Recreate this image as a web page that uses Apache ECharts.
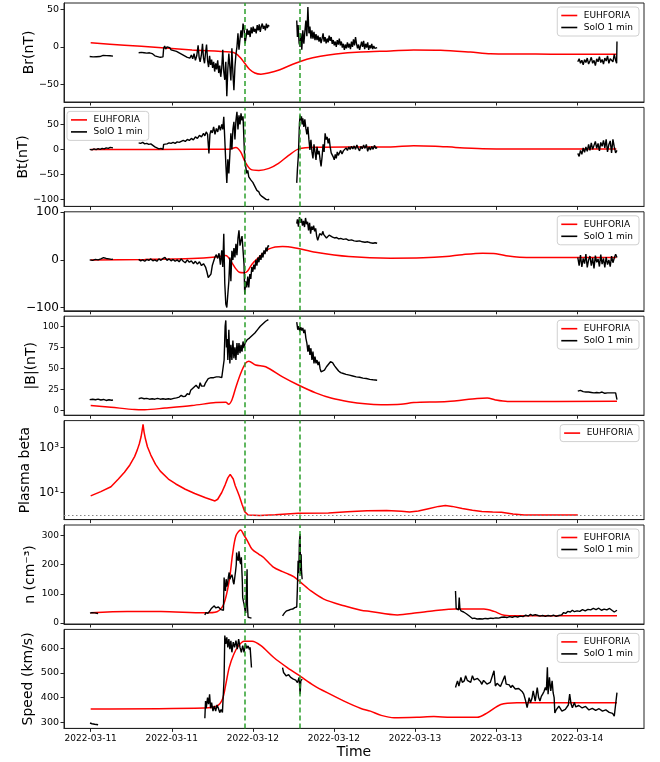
<!DOCTYPE html>
<html><head><meta charset="utf-8">
<script src="https://cdn.jsdelivr.net/npm/echarts@6/dist/echarts.min.js"></script>
<style>html,body{margin:0;padding:0;background:#fff}#c{width:660px;height:762px}</style>
</head><body><div id="c"></div>
<script>
// time in hours since 2022-03-11 00:00
const timeTicks = [0,12,24,36,48,60,72];
const shockTimes = [22.8, 31.0];
const xRange = [-3.95, 81.9];

// ---- Br ----
const brModel = [[0,5.3],[5,2.2],[10,-1],[15,-4.2],[20.7,-7],[21.5,-9],[22.1,-14],[22.8,-22],[23.5,-30],[24.3,-35],[25.2,-36.5],[26.3,-35],[28,-30.5],[30,-23],[32,-16.5],[34,-12.5],[36.3,-9.5],[40,-7],[44.4,-5.5],[47.8,-4.2],[51.8,-4.5],[56.2,-7],[59.2,-9.3],[68.1,-9.8],[77.8,-10]];
const brObsA = [[-0.15,-13],[0.1,-12.5],[0.35,-13.5],[0.6,-12.8],[0.85,-13.2],[1.1,-12],[1.35,-13],[1.6,-12.5],[1.85,-11.5],[2.1,-12.2],[2.35,-11.8],[2.6,-13],[2.85,-12],[3.1,-12.8],[3.3,-12.5]];
const brObsB = [[7.1,-8],[7.3,-9.5],[7.5,-7.5],[7.7,-9],[7.9,-8],[8.1,-10],[8.3,-8.5],[8.5,-9.5],[8.7,-8],[8.9,-10.5],[9.1,-9],[9.3,-11],[9.5,-12],[9.7,-11],[9.9,-13],[10.1,-12],[10.3,-14],[10.5,-12.5],[10.7,-13.5],[10.8,-2],[10.95,1],[11.1,-3],[11.3,0],[11.5,-2],[11.7,-1],[11.9,-4],[12.1,-2],[12.3,-5],[12.5,-3],[12.7,-6],[12.9,-4],[13.1,-8],[13.3,-7],[13.5,-10],[13.7,-9],[13.9,-12],[14.1,-10],[14.3,-14],[14.5,-12],[14.7,-15],[14.9,-11],[15.1,-16],[15.3,-9],[15.5,-18],[15.7,-12],[15.9,2],[16.05,-14],[16.2,-20],[16.4,-10],[16.55,4],[16.7,-15],[16.85,-22],[17.0,-8],[17.15,3],[17.3,-18],[17.45,-27],[17.6,-12],[17.75,-24],[17.9,-17],[18.05,-28],[18.2,-20],[18.35,-33],[18.5,-22],[18.65,-30],[18.8,-18],[18.95,-35],[19.1,-25],[19.25,-40],[19.4,-28],[19.55,-4],[19.7,-33],[19.85,-44],[20.0,-20],[20.15,-66],[20.3,-30],[20.45,-9],[20.6,-27],[20.75,-45],[20.9,-2],[21.05,-35],[21.2,-58],[21.35,-27],[21.5,-10],[21.65,0],[21.8,18],[21.95,-4],[22.1,10],[22.25,22],[22.4,12],[22.55,31],[22.7,25],[22.85,4.5],[23.0,13],[23.15,24],[23.3,16],[23.45,22],[23.6,13],[23.75,26],[23.9,18],[24.05,27],[24.2,20],[24.35,24],[24.5,18],[24.65,29],[24.8,22],[24.95,30],[25.1,20],[25.25,27],[25.4,31],[25.55,24],[25.7,28],[25.85,22],[26.0,31],[26.15,25],[26.3,29],[26.4,27]];
const brObsC = [[30.5,35],[30.6,13],[30.7,29],[30.85,5],[31.0,0],[31.1,18],[31.25,-4],[31.4,22],[31.55,4],[31.7,20],[31.85,35],[32.0,14],[32.15,53],[32.3,18],[32.45,27],[32.6,11],[32.75,22],[32.9,11],[33.05,20],[33.2,9],[33.35,17],[33.5,9],[33.65,15],[33.8,7],[33.95,13],[34.1,5],[34.25,11],[34.4,18],[34.55,7],[34.7,13],[34.85,4.5],[35.0,11],[35.15,6],[35.3,15],[35.45,8],[35.6,13],[35.75,4],[35.9,9],[36.05,2],[36.2,7],[36.35,0],[36.5,9],[36.65,3],[36.8,11],[36.95,2],[37.1,7],[37.25,-1],[37.4,4],[37.55,-4],[37.7,3],[37.85,-2],[38.0,6],[38.15,-1],[38.3,4],[38.45,-3],[38.6,7],[38.75,0],[38.9,10],[39.05,2],[39.2,13],[39.35,4],[39.5,-2],[39.65,3],[39.8,-4],[39.95,1],[40.1,7],[40.25,0],[40.4,8],[40.55,-3],[40.7,4],[40.85,-1],[41.0,6],[41.15,-4],[41.3,2],[41.45,-2],[41.6,4],[41.75,-3],[41.9,1],[42.05,-2],[42.2,0],[42.4,-1]];
const brObsD = [[72.1,-20],[72.3,-16],[72.5,-22],[72.7,-18],[72.9,-24],[73.1,-17],[73.3,-21],[73.5,-15],[73.7,-23],[73.9,-19],[74.1,-14],[74.3,-22],[74.5,-18],[74.7,-25],[74.9,-16],[75.1,-20],[75.3,-13],[75.5,-21],[75.7,-17],[75.9,-23],[76.1,-15],[76.3,-19],[76.5,-12],[76.7,-22],[76.9,-16],[77.1,-14],[77.3,-20],[77.5,-10],[77.7,-18],[77.85,-22],[77.9,7]];

// ---- Bt ----
const btModel = [[0,0],[10,0],[20.5,0.5],[21.5,4],[22.2,-5],[22.9,-26],[23.7,-40],[24.9,-42],[26.4,-38],[27.8,-28],[29.3,-12],[30.8,1],[33.3,4.5],[38,5],[44.4,5],[47.8,7.5],[51,6.5],[54,4],[58,1.5],[62,0.6],[77.8,0.6]];
const btObsA = [[-0.15,0],[0.2,-1],[0.5,1],[0.8,-0.5],[1.1,1.5],[1.4,0],[1.7,2],[2.0,1],[2.3,3],[2.6,2],[2.9,4],[3.1,2.5],[3.3,3]];
const btObsB = [[7.1,13],[7.4,12],[7.7,14],[8.0,11],[8.3,12],[8.6,10],[8.9,11],[9.2,8],[9.5,5],[9.8,3],[10.1,1],[10.4,2],[10.7,0],[10.8,10],[11.0,12],[11.3,11],[11.6,13],[11.9,12],[12.2,14],[12.5,12],[12.8,15],[13.1,14],[13.4,16],[13.7,18],[14.0,16],[14.3,20],[14.6,18],[14.9,22],[15.2,19],[15.5,25],[15.8,22],[16.1,28],[16.4,25],[16.7,32],[16.9,27],[17.1,35],[17.3,30],[17.5,-8],[17.65,30],[17.8,38],[18.0,33],[18.2,45],[18.4,30],[18.6,42],[18.8,35],[19.0,48],[19.2,38],[19.4,50],[19.55,40],[19.7,65],[19.85,20],[20.0,-28],[20.15,-67],[20.3,-20],[20.45,-48],[20.6,-10],[20.75,32],[20.9,0],[21.05,40],[21.2,55],[21.35,20],[21.5,58],[21.65,75],[21.8,40],[21.95,68],[22.1,50],[22.25,72],[22.4,58],[22.55,66],[22.7,70],[22.8,-21],[22.95,-35],[23.1,-48],[23.25,-42],[23.4,-55],[23.55,-52],[23.7,-61],[23.85,-58],[24.0,-66],[24.15,-64],[24.3,-74],[24.45,-78],[24.6,-82],[24.75,-86],[24.9,-85],[25.05,-90],[25.2,-89],[25.35,-94],[25.5,-92],[25.65,-97],[25.8,-96],[25.95,-100],[26.1,-98],[26.25,-101],[26.4,-99]];
const btObsC = [[30.5,-67],[30.6,-40],[30.75,-10],[30.9,52],[31.0,68],[31.1,58],[31.2,66],[31.3,50],[31.4,62],[31.55,45],[31.7,60],[31.85,42],[32.0,30],[32.15,45],[32.3,20],[32.45,-1],[32.6,19],[32.75,-5],[32.9,-18],[33.05,10],[33.2,-5],[33.35,-21],[33.5,5],[33.65,-10],[33.8,-3],[33.95,-20],[34.1,-34],[34.25,-15],[34.4,10],[34.55,-5],[34.7,32],[34.85,20],[35.0,25],[35.15,12],[35.3,22],[35.45,5],[35.6,-7],[35.75,-3],[35.9,-15],[36.05,-21],[36.2,-10],[36.35,-18],[36.5,-5],[36.65,-12],[36.8,-8],[37.0,-2],[37.2,-9],[37.4,-3],[37.6,-6],[37.8,3],[38.0,-2],[38.2,5],[38.4,0],[38.6,6],[38.8,1],[39.0,7],[39.2,0],[39.4,9],[39.6,2],[39.8,-3],[40.0,6],[40.2,1],[40.4,9],[40.6,2],[40.8,10],[41.0,-4],[41.2,5],[41.4,-1],[41.6,6],[41.8,0],[42.0,8],[42.2,2],[42.4,4]];
const btObsD = [[72.1,-8],[72.3,-14],[72.5,-2],[72.7,-10],[72.9,3],[73.1,-6],[73.3,5],[73.5,-4],[73.7,10],[73.9,-2],[74.1,13],[74.3,0],[74.5,8],[74.7,16],[74.9,2],[75.1,12],[75.3,-3],[75.5,14],[75.7,6],[75.9,18],[76.1,3],[76.3,20],[76.5,-5],[76.7,10],[76.9,17],[77.1,-7],[77.3,20],[77.5,5],[77.7,-7],[77.9,-2]];

// ---- Bn ----
const bnModel = [[0,-0.5],[8,1],[15,3],[18.5,6],[20.0,9],[20.7,-1.5],[21.5,-19],[22.0,-26],[22.7,-27],[23.2,-24],[23.9,-8.5],[24.9,5.5],[26.4,23],[28.4,28],[30.3,25],[33.3,16],[38.2,7],[44.4,3.4],[49.2,4.2],[52.6,7],[55,11],[58,14],[60,13],[61.8,8],[63.5,5.5],[66,5],[77.8,5]];
const bnObsA = [[-0.15,0],[0.3,-1],[0.7,1],[1.1,0],[1.5,2],[1.9,4.5],[2.3,3],[2.7,2],[3.1,1],[3.3,1.5]];
const bnObsB = [[7.1,1],[7.4,-2],[7.7,0],[8.0,-3],[8.3,1],[8.6,-1],[8.9,2],[9.2,-2],[9.5,0],[9.8,-3],[10.1,2],[10.4,-1],[10.7,3],[11.0,5],[11.3,-1],[11.6,2],[11.9,-2],[12.2,1],[12.5,-3],[12.8,0],[13.1,-4],[13.4,2],[13.7,-3],[14.0,-6],[14.3,0],[14.6,-5],[14.9,-2],[15.2,-8],[15.5,-3],[15.8,-9],[16.1,-4],[16.4,-12],[16.7,-8],[17.0,-15],[17.2,-25],[17.4,-37],[17.6,-39],[17.8,-30],[18.0,-12],[18.2,-3],[18.4,6],[18.6,11],[18.8,3],[19.0,14],[19.2,-10],[19.4,20],[19.55,-15],[19.7,55],[19.85,-50],[20.0,-93],[20.15,-100],[20.3,-72],[20.45,-45],[20.6,5],[20.75,-45],[20.9,19],[21.05,0],[21.2,25],[21.35,5],[21.5,34],[21.65,10],[21.8,45],[21.95,62],[22.1,30],[22.25,41],[22.4,50],[22.55,20],[22.7,-10],[22.8,-72],[22.95,-45],[23.1,-58],[23.25,-35],[23.4,-58],[23.55,-30],[23.7,-40],[23.85,-15],[24.0,-25],[24.15,-10],[24.3,-20],[24.45,0],[24.6,-12],[24.75,5],[24.9,-5],[25.05,10],[25.2,0],[25.35,15],[25.5,5],[25.65,20],[25.8,12],[25.95,26],[26.1,18],[26.25,30],[26.4,28]];
const bnObsC = [[30.5,76],[30.6,85],[30.75,70],[30.9,90],[31.05,78],[31.2,86],[31.35,72],[31.5,82],[31.65,69],[31.8,88],[31.95,75],[32.1,80],[32.25,62],[32.4,78],[32.55,55],[32.7,70],[32.85,63],[33.0,72],[33.15,60],[33.3,66],[33.45,50],[33.6,41],[33.75,44],[33.9,55],[34.05,58],[34.2,52],[34.35,60],[34.5,53],[34.7,50],[34.9,46],[35.1,49],[35.3,52],[35.5,50],[35.8,48],[36.1,46],[36.4,47],[36.7,44],[37.0,45],[37.4,43],[37.8,44],[38.2,41],[38.6,42],[39.0,40],[39.4,39],[39.8,40],[40.2,38],[40.6,37],[41.0,38],[41.4,36],[41.8,35],[42.1,36],[42.4,35]];
const bnObsD = [[72.1,5],[72.3,-12],[72.5,10],[72.7,-15],[72.9,3],[73.1,-8],[73.3,12],[73.5,-16],[73.7,0],[73.9,8],[74.1,-12],[74.3,4],[74.5,-18],[74.7,9],[74.9,-5],[75.1,2],[75.3,-14],[75.5,11],[75.7,-9],[75.9,3],[76.1,-16],[76.3,6],[76.5,-10],[76.7,0],[76.9,-14],[77.1,8],[77.3,-6],[77.5,4],[77.7,12],[77.9,5]];

// ---- |B| ----
const bModel = [[0,6],[3,4],[6.5,1.2],[8,1],[11,3],[15,6],[18.5,9.5],[20.0,10],[20.4,7.5],[20.9,12.6],[21.5,28],[22.2,44],[22.9,56],[23.4,58.6],[24.4,54],[25.9,52],[28.4,40],[30.8,30],[33.3,21],[35.7,14.5],[38.2,10.5],[40.6,8],[43,7],[45.9,7.5],[47.8,9.5],[52.8,10.8],[57.2,14.4],[58.7,15],[59.9,12.6],[61.7,10.8],[77.9,11]];
const bObsA = [[-0.15,13],[0.3,13.5],[0.7,12.8],[1.1,13.6],[1.5,12.5],[1.9,13.2],[2.3,12],[2.7,12.8],[3.1,12.2],[3.3,12.6]];
const bObsB = [[7.1,14],[7.5,15],[7.9,14],[8.3,14.5],[8.7,13.5],[9.1,14],[9.5,13.5],[9.9,14.5],[10.3,13.5],[10.7,14],[11.1,13.5],[11.5,14],[11.9,13.5],[12.3,14.5],[12.7,15],[13.1,16],[13.4,18],[13.7,16.5],[14.0,17],[14.3,20],[14.6,19],[14.8,24],[15.0,22],[15.2,27],[15.4,25],[15.6,30],[15.8,28],[16.0,26],[16.2,33],[16.4,29],[16.6,31],[16.8,29],[17.0,33],[17.2,35],[17.4,38],[17.6,36],[17.8,39],[18.0,37],[18.2,39],[18.4,38],[18.6,40],[18.8,39],[19.0,40],[19.2,38],[19.4,39],[19.6,37],[19.75,60],[19.9,100],[20.0,107],[20.1,75],[20.2,85],[20.3,60],[20.45,96],[20.6,56],[20.75,78],[20.9,60],[21.05,83],[21.2,62],[21.35,75],[21.5,60],[21.65,80],[21.8,66],[21.95,80],[22.1,68],[22.25,78],[22.4,70],[22.55,82],[22.7,74],[22.85,80],[23.0,78],[23.15,84],[23.3,82],[23.5,86],[23.7,85],[23.9,89],[24.1,88],[24.3,92],[24.5,93],[24.7,96],[24.9,97],[25.1,100],[25.3,101],[25.5,103],[25.7,104],[25.9,106],[26.1,107],[26.3,108]];
const bObsC = [[30.5,105],[30.65,96],[30.8,100],[30.95,94],[31.1,99],[31.25,95],[31.4,98],[31.55,92],[31.7,96],[31.85,86],[32.0,80],[32.15,70],[32.3,78],[32.45,66],[32.6,74],[32.75,60],[32.9,70],[33.05,56],[33.2,64],[33.35,56],[33.5,60],[33.65,54],[33.8,58],[33.95,50],[34.1,46],[34.3,47],[34.6,48],[34.9,52],[35.2,55],[35.5,58],[35.8,57],[36.1,53],[36.4,50],[36.7,47],[37.0,45],[37.4,44],[37.8,43],[38.3,42],[38.8,41],[39.3,40],[39.8,39.5],[40.3,38.5],[40.8,38],[41.3,37],[41.8,36.5],[42.4,36]];
const bObsD = [[72.1,23],[72.3,22],[72.5,24],[72.7,23],[72.9,22.5],[73.1,23.5],[73.3,22],[73.5,23],[73.7,22],[73.9,23.5],[74.1,21.5],[74.3,22.5],[74.5,21],[74.7,22],[74.9,21.5],[75.1,22.5],[75.3,21],[75.5,20.5],[75.7,22],[75.9,21],[76.1,20.5],[76.3,21.5],[76.5,21],[76.7,20.5],[76.9,21],[77.1,22],[77.3,21],[77.5,20],[77.7,21],[77.85,19],[77.9,13]];

// ---- Plasma beta ----
const betaModel = [[0,7.1],[1.5,11],[3,18],[4.1,40],[5,80],[5.8,170],[6.5,400],[6.9,800],[7.2,1500],[7.45,3000],[7.6,5500],[7.75,11000],[7.9,5000],[8.1,2500],[8.4,1100],[8.9,470],[9.6,180],[10.3,90],[11.5,40],[12.6,24],[14,14],[15.4,9],[17,5.8],[18.4,4.2],[18.8,5],[19.4,10],[19.9,22],[20.3,45],[20.65,65],[20.85,72],[21.1,40],[21.4,20],[21.7,12],[22.0,7],[22.4,3],[22.8,1.4],[23.3,0.98],[25,0.93],[27.3,1.02],[30.7,1.18],[35.2,1.22],[38,1.4],[40.9,1.55],[43.8,1.58],[46,1.45],[47.2,1.35],[48.5,1.5],[50,1.9],[51.5,2.4],[52.5,2.6],[53.5,2.4],[55,1.95],[56.5,1.6],[57.9,1.42],[59.5,1.35],[60.8,1.3],[62.5,1.1],[64.2,1.0],[72.1,1.0]];
const betaRef = 1;

// ---- n ----
const nModel = [[0,35],[5.4,40],[10.4,40],[16.8,35],[18.7,39],[19.7,65],[20.5,144],[21.0,235],[21.5,298],[22.2,318],[22.7,300],[23.2,281],[23.9,252],[24.9,235],[25.6,224],[27.1,190],[28.4,176],[29.3,167],[30.1,158],[31.1,139],[32.6,110],[34.5,82],[37.5,59],[40,44],[41.4,40],[45.4,28],[48.3,35],[50.8,42],[54,48],[58.2,48],[59.7,40],[61.2,27],[63.1,25],[77.9,25]];
const nObsA = [[-0.1,34],[0.2,36],[0.4,33],[0.6,35],[0.8,32],[1.1,33]];
const nObsB = [[16.9,28],[17.05,36],[17.2,41],[17.35,33],[17.5,36],[17.7,44],[17.9,51],[18.1,47],[18.3,59],[18.5,52],[18.7,48],[18.9,55],[19.1,51],[19.3,46],[19.5,49],[19.65,44],[19.75,156],[19.85,120],[19.95,110],[20.05,150],[20.15,125],[20.25,133],[20.4,160],[20.5,173],[20.6,150],[20.75,145],[20.9,165],[21.0,156],[21.1,140],[21.2,133],[21.35,160],[21.45,178],[21.55,200],[21.6,241],[21.7,220],[21.85,213],[21.95,245],[22.0,235],[22.1,210],[22.2,202],[22.3,225],[22.4,167],[22.45,140],[22.5,87],[22.6,75],[22.7,65],[22.8,50],[22.85,43],[22.95,35],[23.05,30],[23.15,184],[23.2,60],[23.3,20],[23.4,17],[23.5,14],[23.65,18],[23.8,17]];
const nObsC = [[28.4,25],[28.55,30],[28.7,35],[28.85,32],[29.0,42],[29.15,46],[29.3,44],[29.45,49],[29.6,47],[29.75,44],[29.9,48],[30.05,46],[30.2,53],[30.35,50],[30.5,55],[30.6,122],[30.7,213],[30.8,170],[30.9,281],[31.0,304],[31.05,200],[31.1,167],[31.15,235],[31.2,180],[31.3,150]];
const nObsD = [[54.0,110],[54.1,50],[54.2,48],[54.35,56],[54.45,45],[54.55,87],[54.65,50],[54.8,42],[55.0,45],[55.2,38],[55.4,40],[55.6,32],[55.8,28],[56.0,25],[56.2,20],[56.5,16],[56.8,17],[57.2,14],[57.6,15],[58.0,14],[58.4,16],[58.8,15],[59.2,17],[59.6,16],[60.0,18],[60.4,17],[60.8,20],[61.2,21],[61.6,19],[62.0,22],[62.4,20],[62.8,23],[63.2,21],[63.6,24],[64.0,22],[64.4,27],[64.8,24],[65.1,30],[65.4,26],[65.8,29],[66.1,27],[66.5,24],[66.9,26],[67.3,23],[67.7,26],[68.1,24],[68.5,27],[68.9,23],[69.3,26],[69.7,28],[70.0,36],[70.3,33],[70.6,40],[71.0,38],[71.3,44],[71.6,39],[72.0,42],[72.4,40],[72.8,46],[73.2,42],[73.6,47],[74.0,45],[74.4,50],[74.8,46],[75.2,51],[75.6,44],[76.0,48],[76.4,45],[76.8,50],[77.2,43],[77.5,38],[77.9,44]];

// ---- Speed ----
const vModel = [[0,354],[16.8,358],[18.7,366],[19.5,393],[20.0,454],[20.5,522],[21.2,577],[21.9,611],[22.7,629],[23.9,629],[25.2,611],[27.1,563],[29.1,522],[31.1,485],[33.0,450],[35.0,420],[37.5,386],[40,356],[41.4,345],[43,328],[44.9,318],[48.3,320],[50.8,323],[53.3,320],[57.2,320],[58.7,338],[60.7,372],[63.1,379],[77.9,379]];
const vObsA = [[-0.1,297],[0.2,294],[0.4,296],[0.6,292],[0.8,293],[1.1,290]];
const vObsB = [[16.9,316],[17.0,386],[17.1,357],[17.3,400],[17.45,373],[17.6,413],[17.75,357],[17.9,380],[18.1,345],[18.3,366],[18.5,345],[18.7,370],[18.9,357],[19.1,339],[19.3,352],[19.5,340],[19.65,345],[19.75,481],[19.85,652],[20.0,618],[20.15,645],[20.3,604],[20.45,638],[20.6,597],[20.75,631],[20.9,584],[21.1,625],[21.3,604],[21.5,631],[21.7,597],[21.9,638],[22.1,604],[22.3,584],[22.5,611],[22.7,584],[22.9,620],[23.1,600],[23.3,610],[23.5,595],[23.6,604],[23.8,522]];
const vObsC = [[28.4,522],[28.55,502],[28.7,509],[28.95,488],[29.3,493],[29.6,482],[30.0,475],[30.35,471],[30.6,461],[30.85,482],[31.0,414],[31.1,468],[31.3,475]];
const vObsD = [[54.0,441],[54.15,455],[54.3,468],[54.5,447],[54.8,482],[55.0,462],[55.3,468],[55.5,489],[55.75,470],[56.0,475],[56.25,462],[56.5,489],[56.75,472],[57.0,468],[57.25,478],[57.5,482],[57.7,465],[57.9,454],[58.15,470],[58.4,475],[58.65,455],[58.9,447],[59.15,462],[59.4,468],[59.7,509],[59.9,447],[60.15,458],[60.4,461],[60.65,445],[60.9,441],[61.3,489],[61.5,455],[61.7,447],[61.95,452],[62.2,441],[62.4,450],[62.6,454],[62.85,435],[63.1,427],[63.35,437],[63.6,441],[63.85,425],[64.1,414],[64.35,390],[64.6,359],[64.9,400],[65.1,380],[65.3,395],[65.5,427],[65.8,386],[66.1,441],[66.3,400],[66.5,386],[66.7,405],[66.9,414],[67.1,425],[67.3,441],[67.45,430],[67.6,523],[67.7,414],[67.9,482],[68.1,427],[68.3,468],[68.45,420],[68.6,400],[68.7,338],[68.9,350],[69.1,345],[69.3,365],[69.5,359],[69.75,345],[70.0,338],[70.25,352],[70.5,359],[70.7,370],[70.9,414],[71.1,375],[71.3,359],[71.6,380],[71.8,362],[72.0,359],[72.25,368],[72.5,372],[72.75,358],[73.0,352],[73.25,364],[73.5,366],[73.75,350],[74.0,345],[74.25,356],[74.5,359],[74.75,348],[75.0,345],[75.25,355],[75.5,361],[75.75,345],[76.0,338],[76.25,350],[76.5,352],[76.75,340],[77.0,332],[77.25,336],[77.5,325],[77.7,372],[77.9,420]];

// ---- layout ----
const FONT = 'DejaVu Sans';
const tops = [3, 107.4, 211.8, 316.2, 420.6, 525, 629.4];
const H = 99, LEFT = 64, RIGHT = 16;
const panels = [
  {name:'Br(nT)', gap:28, min:-73.6, max:58.4, ticks:[-50,0,50], fs:9.5, model:brModel, obs:[brObsA,brObsB,brObsC,brObsD], leg:'right'},
  {name:'Bt(nT)', gap:34, min:-114, max:84, ticks:[-100,-50,0,50], fs:9.5, model:btModel, obs:[btObsA,btObsB,btObsC,btObsD], leg:'left'},
  {name:'', gap:30, min:-107, max:101, ticks:[-100,0,100], fs:12, model:bnModel, obs:[bnObsA,bnObsB,bnObsC,bnObsD], leg:'right'},
  {name:'|B|(nT)', gap:26, min:-5.5, max:112, ticks:[0,25,50,75,100], fs:8.5, model:bModel, obs:[bObsA,bObsB,bObsC,bObsD], leg:'right'},
  {name:'Plasma beta', gap:32, min:0.617, max:16200, ticks:[10,1000], fs:12, model:betaModel, obs:[], leg:'right', log:true},
  {name:'n (cm⁻³)', gap:26.5, min:-3, max:335, ticks:[0,100,200,300], fs:9, model:nModel, obs:[nObsA,nObsB,nObsC,nObsD], leg:'right'},
  {name:'Speed (km/s)', gap:28.5, min:275, max:677, ticks:[300,400,500,600], fs:9.5, model:vModel, obs:[vObsA,vObsB,vObsC,vObsD], leg:'right'}
];
const AX = '#222';
const fmtDate = h => '2022-03-' + String(11 + Math.floor(h / 24)).padStart(2, '0');
const fmtY = (p) => v => p.log ? (v === 10 ? '10¹' : '10³') : String(v).replace('-', '\u2212');

const grid = [], xAxis = [], yAxis = [], series = [], legend = [];
panels.forEach((p, i) => {
  grid.push({left: LEFT, right: RIGHT, top: tops[i], height: H, show: true, borderColor: AX, borderWidth: 1, backgroundColor: 'transparent'});
  xAxis.push({type: 'value', gridIndex: i, min: xRange[0], max: xRange[1],
    axisLine: {show: true, onZero: false, lineStyle: {color: AX, width: 1}},
    axisTick: {show: true, customValues: timeTicks, length: 3.5, lineStyle: {color: AX}},
    axisLabel: {show: i === 6, customValues: timeTicks, formatter: fmtDate, fontSize: 9, fontFamily: FONT, color: '#000', margin: 6},
    splitLine: {show: false},
    name: i === 6 ? 'Time' : '', nameLocation: 'middle', nameGap: 17, nameMoveOverlap: false,
    nameTextStyle: {fontSize: 14, fontFamily: FONT, color: '#000'}});
  yAxis.push({type: p.log ? 'log' : 'value', gridIndex: i, min: p.min, max: p.max, logBase: 10,
    axisLine: {show: true, onZero: false, lineStyle: {color: AX, width: 1}},
    axisTick: {show: true, customValues: p.ticks, length: 3.5, lineStyle: {color: AX}},
    axisLabel: {customValues: p.ticks, formatter: fmtY(p), fontSize: p.fs, fontFamily: FONT, color: '#000', margin: 5},
    splitLine: {show: false}, minorTick: {show: false},
    name: p.name, nameLocation: 'middle', nameGap: p.gap, nameRotate: 90, nameMoveOverlap: false,
    nameTextStyle: {fontSize: 14, fontFamily: FONT, color: '#000'}});
  const ml = [{xAxis: shockTimes[0]}, {xAxis: shockTimes[1]}];
  if (p.log) ml.push({yAxis: betaRef, lineStyle: {color: '#888', type: [1.5, 2.5], width: 1.2}});
  series.push({type: 'line', name: 'EUHFORIA', xAxisIndex: i, yAxisIndex: i, data: p.model,
    symbol: 'none', smooth: p.log ? false : 0.3, lineStyle: {color: '#ff0000', width: 1.5}, itemStyle: {color: '#ff0000'}, z: 2, silent: true});
  p.obs.forEach(seg => series.push({type: 'line', name: 'SolO 1 min', xAxisIndex: i, yAxisIndex: i, data: seg,
    symbol: 'none', lineStyle: {color: '#000', width: 1.4}, itemStyle: {color: '#000'}, z: 3, silent: true}));
  series.push({type: 'line', name: 'marks' + i, xAxisIndex: i, yAxisIndex: i, data: [], symbol: 'none', z: 5, silent: true,
    markLine: {silent: true, symbol: ['none', 'none'], label: {show: false}, animation: false,
      lineStyle: {color: '#2ca02c', type: [5, 3], width: 1.5}, data: ml}});
  const lg = {data: p.obs.length ? ['EUHFORIA', 'SolO 1 min'] : ['EUHFORIA'], orient: 'vertical', top: tops[i] + 4,
    icon: 'path://M0,0H20V2H0Z', itemWidth: 19, itemHeight: 1.6, itemGap: 3,
    backgroundColor: '#fff', borderColor: '#d0d0d0', borderWidth: 1, borderRadius: 3, padding: [4, 6, 4, 4],
    textStyle: {fontSize: 9, fontFamily: FONT, color: '#000'}, selectedMode: false};
  if (p.leg === 'left') lg.left = LEFT + 3; else lg.right = RIGHT + 5;
  legend.push(lg);
});

const chart = echarts.init(document.getElementById('c'), null, {renderer: 'canvas'});
chart.setOption({animation: false, backgroundColor: '#fff', grid, xAxis, yAxis, series, legend,
  textStyle: {fontFamily: FONT}});
</script></body></html>
